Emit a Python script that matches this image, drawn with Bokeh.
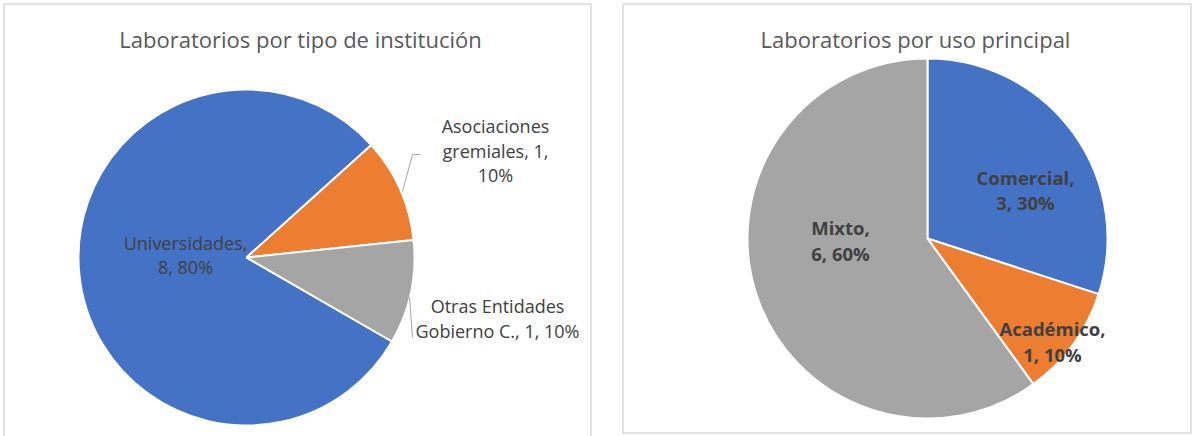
import math
from bokeh.plotting import figure
from bokeh.models import Range1d
from bokeh.core.properties import value
from bokeh.embed import file_html
from bokeh.resources import INLINE

# Data
inst_labels = ["Universidades", "Asociaciones gremiales", "Otras Entidades Gobierno C."]
inst_values = [8, 1, 1]
uso_labels = ["Comercial", "Académico", "Mixto"]
uso_values = [3, 1, 6]
colors_inst = ["#4472C4", "#ED7D31", "#A5A5A5"]
colors_uso = ["#4472C4", "#ED7D31", "#A5A5A5"]
title_left = "Laboratorios por tipo de institución"
title_right = "Laboratorios por uso principal"

W, H = 1196, 436
FONT = "Open Sans"
p = figure(width=W, height=H, x_range=Range1d(0, W), y_range=Range1d(0, H),
           output_backend="svg", toolbar_location=None, min_border=0,
           x_axis_type=None, y_axis_type=None)
p.grid.visible = False
p.outline_line_color = None

def R(x, y):
    # reference-pixel coords -> figure data coords
    return x, H - y

# panel borders
BC = "#D9D9D9"
xs, ys = zip(*[R(3.5, 436), R(3.5, 3.5), R(590.5, 3.5), R(590.5, 436)])
p.line(list(xs), list(ys), line_color=BC, line_width=1.5)
xs, ys = zip(*[R(622.5, 432.5), R(622.5, 3.5), R(1190.5, 3.5), R(1190.5, 432.5), R(622.5, 432.5)])
p.line(list(xs), list(ys), line_color=BC, line_width=1.5)

def pie(cx, cy, r, vals, cols, first_angle_deg):
    total = sum(vals)
    cum = 0.0
    starts, ends = [], []
    for v in vals:
        a0 = 90 - first_angle_deg - 360 * cum / total
        a1 = 90 - first_angle_deg - 360 * (cum + v) / total
        starts.append(math.radians(a1))
        ends.append(math.radians(a0))
        cum += v
    p.wedge(x=[cx] * len(vals), y=[cy] * len(vals), radius=r,
            start_angle=starts, end_angle=ends, direction="anticlock",
            fill_color=cols, line_color="white", line_width=2)

lcx, lcy = R(246, 257)
pie(lcx, lcy, 168, inst_values, colors_inst, 120)
rcx, rcy = R(927, 238)
pie(rcx, rcy, 180, uso_values, colors_uso, 0)

def txt(x, y, s, size, color, bold=False):
    fx, fy = R(x, y)
    p.text(x=[fx], y=[fy], text=[s], text_font=value(FONT), text_font_size=f"{size}px",
           text_color=color, text_align="center", text_baseline="middle",
           text_font_style="bold" if bold else "normal")

# titles
txt(300, 38, title_left, 22, "#595959")
txt(915, 38, title_right, 22, "#595959")

itot = sum(inst_values)
def lab(name, v, tot):
    return name, v, round(100 * v / tot)

LS = 18
BS = 18.5
TC = "#404040"
# left labels
n, v, pc = lab(inst_labels[0], inst_values[0], itot)
txt(185, 242, f"{n},", LS, TC)
txt(185, 266, f"{v}, {pc}%", LS, TC)
n, v, pc = lab(inst_labels[1], inst_values[1], itot)
w1, w2 = n.split(" ")
txt(495, 125, w1, LS, TC)
txt(495, 150, f"{w2}, {v},", LS, TC)
txt(495, 174, f"{pc}%", LS, TC)
n, v, pc = lab(inst_labels[2], inst_values[2], itot)
parts = n.split(" ")
txt(497, 305, " ".join(parts[:2]), LS, TC)
txt(497, 330, f"{' '.join(parts[2:])}, {v}, {pc}%", LS, TC)

# leader lines
xs, ys = zip(*[R(402, 191), R(412, 154), R(420, 154)])
p.line(list(xs), list(ys), line_color="#A6A6A6", line_width=1)
xs, ys = zip(*[R(409, 297), R(412, 337)])
p.line(list(xs), list(ys), line_color="#A6A6A6", line_width=1)

# right labels
utot = sum(uso_values)
n, v, pc = lab(uso_labels[0], uso_values[0], utot)
txt(1025, 177, f"{n},", BS, TC, True)
txt(1025, 202, f"{v}, {pc}%", BS, TC, True)
n, v, pc = lab(uso_labels[2], uso_values[2], utot)
txt(840, 227, f"{n},", BS, TC, True)
txt(840, 253, f"{v}, {pc}%", BS, TC, True)
n, v, pc = lab(uso_labels[1], uso_values[1], utot)
txt(1052, 328, f"{n},", BS, TC, True)
txt(1052, 354, f"{v}, {pc}%", BS, TC, True)

open("out.html", "w").write(file_html(p, INLINE))
